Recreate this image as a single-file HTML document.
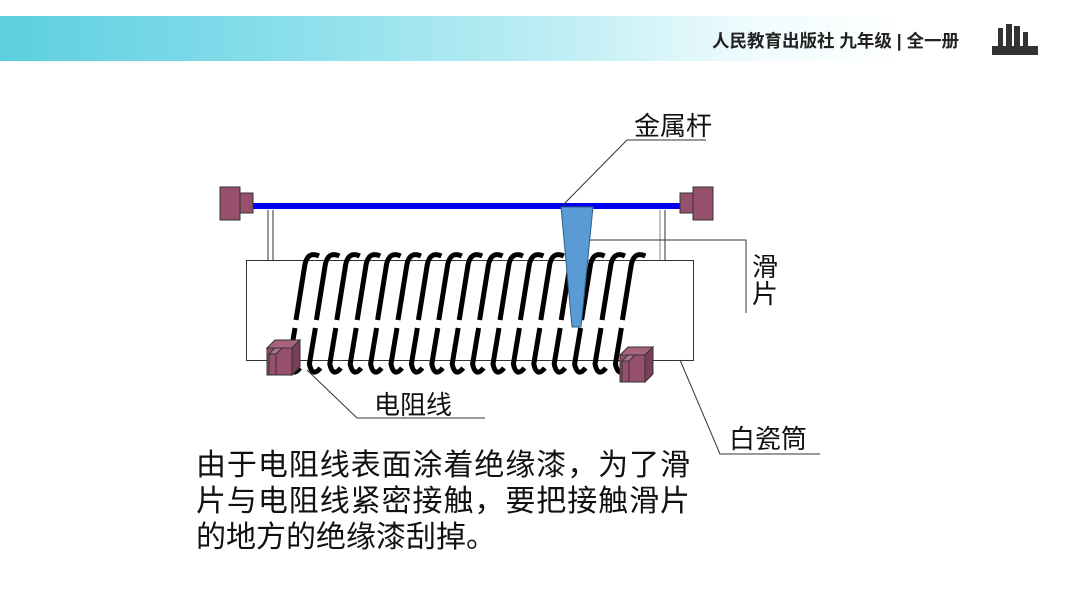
<!DOCTYPE html>
<html><head><meta charset="utf-8"><style>
body{margin:0;width:1066px;height:600px;background:#fff;overflow:hidden;position:relative;font-family:"Liberation Sans","Noto Sans CJK SC",sans-serif}
.banner{position:absolute;left:0;top:16px;width:1066px;height:45px;background:linear-gradient(90deg,#5ccfe0 0%,#8fe0ec 30%,#c5f0f6 55%,#eefbfd 70%,#fff 85%)}
.pub{position:absolute;left:712px;top:28px;font-size:17.5px;font-weight:bold;color:#222;white-space:nowrap}
.t{position:absolute;color:#111}
.ln{position:absolute;left:196px;font-size:30px;line-height:36px;color:#111;white-space:nowrap;text-align:justify;text-align-last:justify;text-justify:inter-character}
</style></head><body>
<div class="banner"></div>
<div class="pub">人民教育出版社 九年级 | 全一册</div>
<svg style="position:absolute;left:992px;top:22px" width="48" height="34"><rect x="0" y="24" width="46" height="9" fill="#333"/><rect x="6" y="6" width="5" height="18" fill="#333"/><rect x="14" y="2" width="6" height="22" fill="#333"/><rect x="22" y="4" width="6" height="20" fill="#333"/><rect x="31" y="10" width="5" height="14" fill="#333"/></svg>
<svg style="position:absolute;left:0;top:0" width="1066" height="600">
<g stroke="#333" stroke-width="1" fill="none">
<line x1="268" y1="210" x2="268" y2="260"/><line x1="273" y1="210" x2="273" y2="260"/>
<line x1="660" y1="210" x2="660" y2="260" stroke="#888"/><line x1="665" y1="210" x2="665" y2="260"/>
<rect x="246.5" y="260.5" width="447" height="100" fill="#fff"/>
</g>
<g id="coil"></g>
<rect x="253" y="203" width="427" height="6" fill="#0000ee"/>
<g fill="#96506e" stroke="#333" stroke-width="1">
<rect x="220" y="187" width="20" height="33"/><rect x="240" y="193" width="13" height="20"/>
<rect x="693" y="187" width="20" height="33"/><rect x="680" y="193" width="13" height="20"/>
</g>
<polygon points="561,207 593,207 581,327 572,327" fill="#5b9bd5" stroke="#2e5f8a" stroke-width="1"/>
<g stroke="#333" stroke-width="1">
<g transform="translate(267,340)"><polygon points="0,8 8,0 33,0 25,8" fill="#a8637f"/><polygon points="25,8 33,0 33,27 25,35" fill="#7a3f58"/><rect x="0" y="8" width="25" height="27" fill="#96506e"/><polygon points="2,14 8,8 15,8 9,14" fill="#b07090"/><rect x="2" y="14" width="7" height="21" fill="#96506e"/></g>
<g transform="translate(620,347)"><polygon points="0,8 8,0 33,0 25,8" fill="#a8637f"/><polygon points="25,8 33,0 33,27 25,35" fill="#7a3f58"/><rect x="0" y="8" width="25" height="27" fill="#96506e"/><polygon points="2,14 8,8 15,8 9,14" fill="#b07090"/><rect x="2" y="14" width="7" height="21" fill="#96506e"/></g>
</g>
<g stroke="#333" stroke-width="1" fill="none">
<polyline points="562,206 627,140 706,140"/>
<polyline points="590,240 746,240 746,313"/>
<polyline points="307,370 357,418 485,418"/>
<polyline points="680,360 720,454 820,454"/>
</g>
</svg>
<div class="t" style="left:634px;top:106px;font-size:26px">金属杆</div>
<div class="t" style="left:752px;top:254px;font-size:26px;line-height:27px;width:28px">滑<br>片</div>
<div class="t" style="left:374px;top:385px;font-size:26px">电阻线</div>
<div class="t" style="left:729px;top:419px;font-size:26px">白瓷筒</div>
<div class="ln" style="top:448px;width:494px">由于电阻线表面涂着绝缘漆，为了滑</div>
<div class="ln" style="top:484px;width:494px">片与电阻线紧密接触，要把接触滑片</div>
<div class="ln" style="top:520px;text-align:left;text-align-last:left">的地方的绝缘漆刮掉。</div>
<script>
var g=document.getElementById('coil'),s='';
for(var i=0;i<17;i++){var d=i*20.4;
s+='<path d="M'+(296+d)+' 320 L'+(305+d)+' 264 Q'+(308+d)+' 251 '+(319+d)+' 256" stroke="#000" stroke-width="5" fill="none"/>';
s+='<path d="M'+(295+d)+' 328 L'+(289+d)+' 364 Q'+(292+d)+' 378 '+(300+d)+' 368" stroke="#000" stroke-width="5" fill="none"/>';}
g.innerHTML=s;
</script>
</body></html>
